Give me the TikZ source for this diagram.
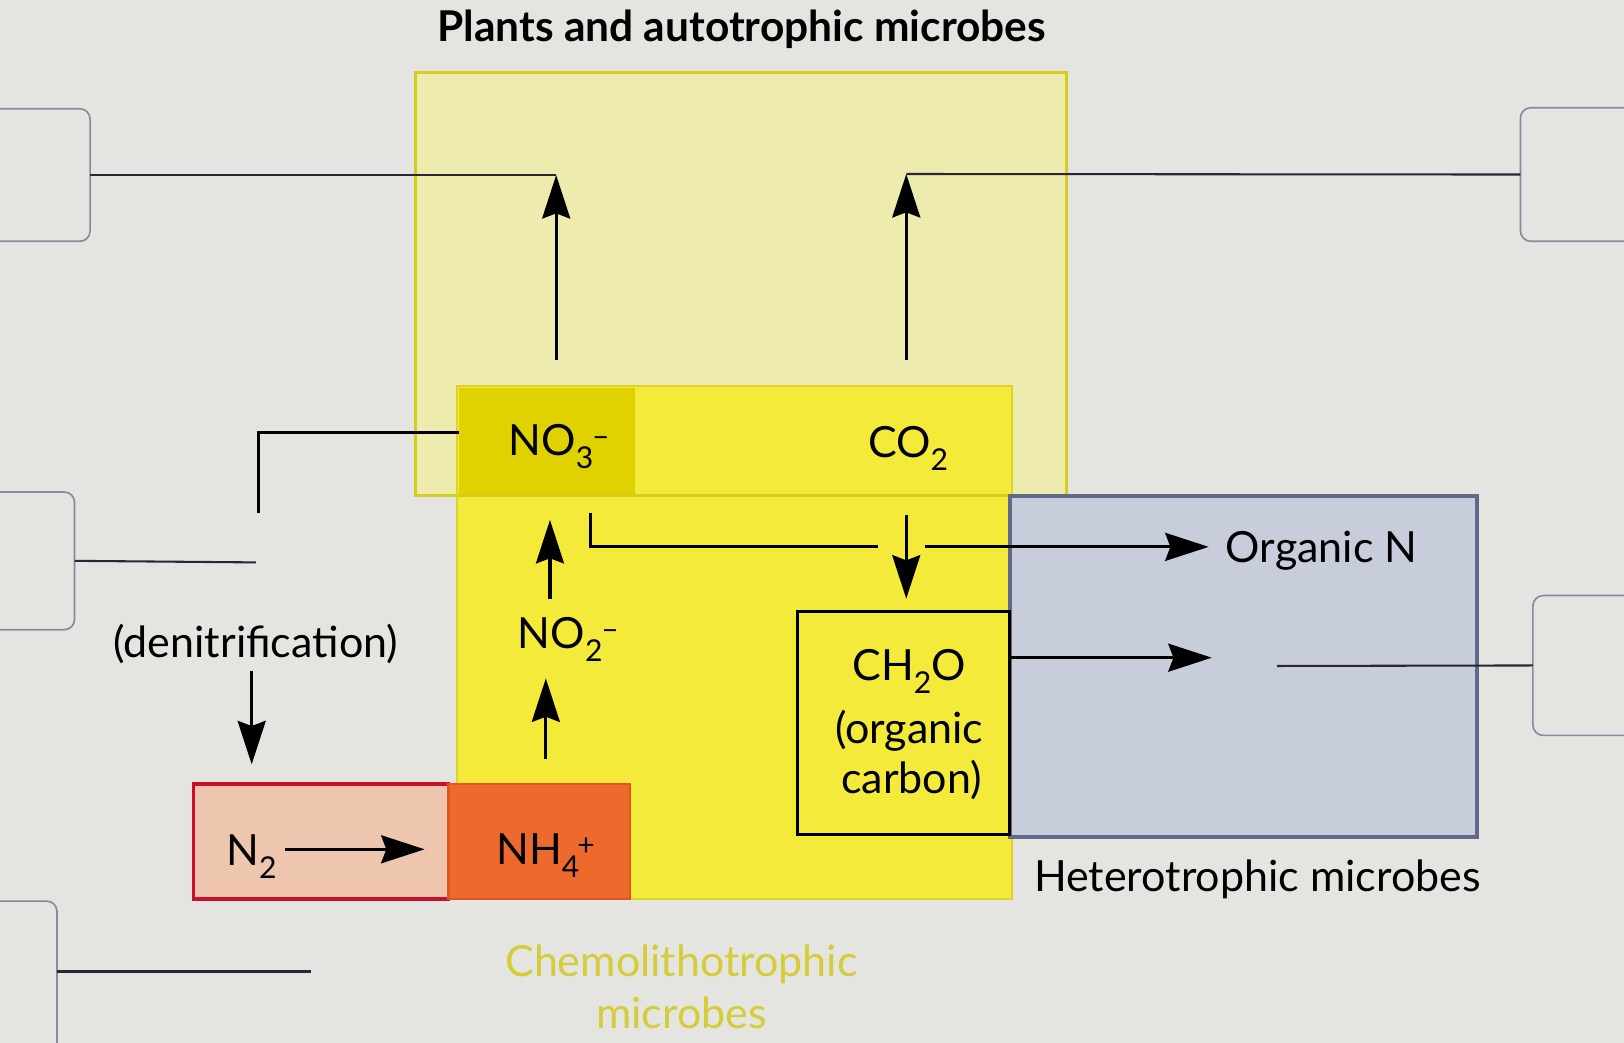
\documentclass[tikz,border=0pt]{standalone}
\usepackage{fontspec}
\setmainfont{Lato}
\usetikzlibrary{arrows.meta}
\definecolor{bg}{HTML}{E4E4E1}
\definecolor{plantsfill}{HTML}{EEEBAE}
\definecolor{plantsline}{HTML}{D6CC1C}
\definecolor{chemofill}{HTML}{F4EA3A}
\definecolor{chemoline}{HTML}{DDD22A}
\definecolor{nothreefill}{HTML}{DFD200}
\definecolor{heterofill}{HTML}{C7CDDB}
\definecolor{heteroline}{HTML}{61688A}
\definecolor{ntwofill}{HTML}{EEC6B0}
\definecolor{ntwoline}{HTML}{C8102E}
\definecolor{nhfourfill}{HTML}{EE6A2C}
\definecolor{nhfourline}{HTML}{E0561E}
\definecolor{chemotext}{HTML}{D6CC38}
\definecolor{lblline}{HTML}{858B9C}
\definecolor{connline}{HTML}{2B2538}
\newcommand\chemion[3]{\textsubscript{#1}\kern#3\textsuperscript{#2}}
\begin{document}
\begin{tikzpicture}[x=1pt,y=-1pt,
  region/.style={inner sep=0pt, outer sep=0pt},
  lblbox/.style={draw=lblline, line width=1.6pt, rounded corners=10pt, inner sep=0pt, outer sep=0pt},
  conn/.style={draw=connline, line width=2pt},
  flow/.style={draw=black, line width=3pt},
  arr/.style={flow, -{Stealth[length=42pt,width=27pt,inset=5pt]}},
  txt/.style={inner sep=0pt, anchor=base, font=\fontsize{41.5}{48}\selectfont},
]
\useasboundingbox (0,0) rectangle (1568,1007);
\fill[bg] (0,0) rectangle (1568,1007);

% label boxes
\node[lblbox, minimum width=127pt, minimum height=128pt] (lb1) at (23.5,169) {};
\node[lblbox, minimum width=112pt, minimum height=133pt] (lb2) at (16,541.5) {};
\node[lblbox, minimum width=95pt, minimum height=190pt] (lb3) at (7.5,965) {};
\node[lblbox, minimum width=142pt, minimum height=129pt] (lb4) at (1539,168.5) {};
\node[lblbox, minimum width=130pt, minimum height=135pt] (lb5) at (1545,642.5) {};

% regions
\node[region, fill=plantsfill, draw=plantsline, line width=3pt, minimum width=629pt, minimum height=408pt] (plants) at (715.5,274) {};
\node[region, fill=chemofill, draw=chemoline, line width=2pt, minimum width=536pt, minimum height=495pt] (chemo) at (709,620.5) {};
\node[region, fill=nothreefill, minimum width=170pt, minimum height=103pt] (no3box) at (528,426.5) {};
\draw[plantsline, line width=3pt] (chemo.west |- plants.south) -- (chemo.east |- plants.south);
\node[region, fill=heterofill, draw=heteroline, line width=4pt, minimum width=451pt, minimum height=329pt] (hetero) at (1200.5,643.5) {};
\node[region, fill=chemofill, draw=black, line width=3pt, minimum width=205pt, minimum height=216pt] (ch2obox) at (872.5,698) {};
\node[region, fill=ntwofill, draw=ntwoline, line width=3.5pt, minimum width=246pt, minimum height=111pt] (n2box) at (310,812.5) {};
\node[region, fill=nhfourfill, draw=nhfourline, line width=2pt, minimum width=175pt, minimum height=111pt] (nh4box) at (520.5,812.5) {};

% texts
\node[txt, font=\bfseries\fontsize{41}{48}\selectfont] (title) at (716,40) {Plants and autotrophic microbes};
\node[txt] (no3) at (540,440) {NO\chemion{3}{–}{-0.04em}};
\node[txt] (co2) at (877,442) {CO\textsubscript{2}};
\node[txt] (no2) at (549,626) {NO\chemion{2}{–}{-0.04em}};
\node[txt] (nh4) at (527,835) {NH\chemion{4}{+}{-0.06em}};
\node[txt] (n2) at (243,836) {N\textsubscript{2}};
\node[txt] (ch2o) at (878,657) {CH\textsubscript{2}O};
\node[txt] (organic) at (878,718) {(organic};
\node[txt] (carbon) at (880,766) {carbon)};
\node[txt] (orgN) at (1276,543) {Organic N};
\node[txt] (hetlbl) at (1214,861) {Heterotrophic microbes};
\node[txt, text=chemotext] (chemo1) at (658,943) {Chemolithotrophic};
\node[txt, text=chemotext] (chemo2) at (658,993) {microbes};
\node[txt] (denit) at (247,635) {(denitrification)};

% coordinates
\coordinate (nt) at (537,169);
\coordinate (nb) at (537,348);
\coordinate (ct) at (875,168);
\coordinate (cb) at (875,348);
\coordinate (no2a) at (531,578);
\coordinate (no2b) at (531,502);
\coordinate (nh4a) at (527,733);
\coordinate (nh4b) at (527,655);
\coordinate (d0) at (250,418);
\coordinate (d1) at (250,495);
\coordinate (da) at (243,648);
\coordinate (db) at (243,738);
\coordinate (n2a) at (275,820);
\coordinate (n2b) at (410,820);
\coordinate (oa) at (570,495);
\coordinate (ob) at (570,528);
\coordinate (oc) at (848,528);
\coordinate (od) at (893,528);
\coordinate (oe) at (1167,528);
\coordinate (cda) at (875,497);
\coordinate (cdb) at (875,578);
\coordinate (cha) at (975,635);
\coordinate (chb) at (1170,635);
\coordinate (l2end) at (247,543);
\coordinate (l3end) at (300,938);
\coordinate (l5end) at (1233,643);

% flows
\draw[arr] (nb) -- (nt);
\draw[arr] (cb) -- (ct);
\draw[arr] (no2a) -- (no2b);
\draw[arr] (nh4a) -- (nh4b);
\draw[flow] (d0 -| no3box.west) -- (d0) -- (d1);
\draw[arr] (da) -- (db);
\draw[arr] (n2a) -- (n2b);
\draw[flow] (oa) -- (ob) -- (oc);
\draw[arr] (od) -- (oe);
\draw[arr] (cda) -- (cdb);
\draw[arr] (cha) -- (chb);

% label connectors
\draw[conn] (lb1.east) -- (nt);
\draw[conn] (lb4.west) -- (ct);
\draw[conn] (lb2.east) -- (l2end);
\draw[conn] (lb3.east |- l3end) -- (l3end);
\draw[conn] (lb5.west) -- (l5end);
\end{tikzpicture}
\end{document}
